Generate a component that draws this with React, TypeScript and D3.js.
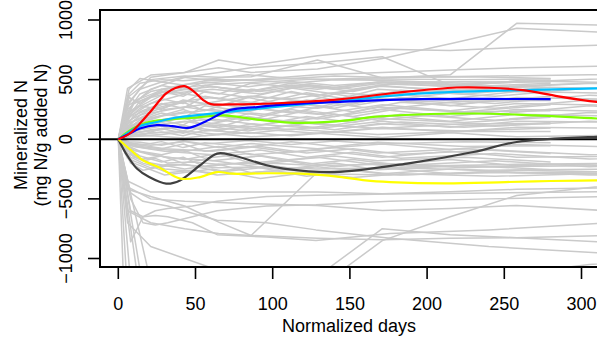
import React, { useEffect, useRef } from 'react';
import * as d3 from 'd3';

// ---- tick labels ----
const xTicks = [0, 50, 100, 150, 200, 250, 300];
const yTicks = [-1000, -500, 0, 500, 1000];
const yTickLabels = ['\u22121000', '\u2212500', '0', '500', '1000'];

// ---- gray individual series (group A: ends at day 280) ----
const daysA = [0, 7, 14, 28, 42, 56, 84, 112, 140, 168, 224, 280];
const grayA = [
  [0, 380, 470, 500, 490, 505, 495, 510, 500, 505, 500, 505],
  [0, 300, 420, 480, 455, 490, 500, 470, 498, 495, 470, 492],
  [0, 250, 380, 450, 420, 480, 440, 485, 450, 478, 482, 480],
  [0, 200, 320, 400, 360, 450, 400, 455, 420, 465, 440, 470],
  [0, 180, 260, 340, 300, 400, 350, 430, 380, 445, 410, 455],
  [0, 150, 230, 300, 260, 360, 300, 400, 330, 420, 380, 435],
  [0, 120, 200, 260, 310, 240, 350, 280, 380, 320, 400, 410],
  [0, 100, 160, 220, 180, 280, 230, 320, 260, 340, 300, 360],
  [0, 90, 140, 200, 250, 190, 270, 220, 300, 250, 320, 325],
  [0, 80, 120, 160, 120, 210, 160, 250, 190, 270, 230, 290],
  [0, 60, 100, 140, 180, 120, 190, 140, 210, 160, 230, 240],
  [0, 50, 80, 110, 70, 140, 100, 160, 120, 175, 140, 185],
  [0, 40, 60, 80, 120, 70, 110, 80, 120, 90, 130, 130],
  [0, 30, 45, 60, 30, 75, 50, 85, 60, 90, 70, 95],
  [0, 20, 30, 40, 60, 30, 55, 30, 60, 40, 65, 65],
  [0, 350, 300, 420, 380, 450, 400, 470, 430, 480, 460, 490],
  [0, 200, 280, 250, 330, 300, 360, 340, 390, 370, 410, 400],
  [0, 420, 510, 480, 520, 500, 540, 510, 530, 520, 525, 510],
  [0, -40, -60, -80, -40, -100, -60, -110, -70, -115, -80, -120],
  [0, -60, -100, -130, -90, -160, -120, -175, -140, -180, -150, -190],
  [0, -30, -50, -20, -70, -30, -65, -20, -60, -25, -60, -55],
  [0, -80, -140, -190, -150, -230, -190, -245, -200, -255, -220, -255],
  [0, -20, -25, -50, -15, -40, -10, -45, -15, -40, -20, -30],
  [0, -100, -170, -140, -200, -170, -220, -180, -230, -200, -240, -210],
  [0, 60, 30, 90, 50, 110, 70, 120, 80, 130, 100, 140],
];

// ---- group B: extends past the right edge ----
const daysB = [0, 6, 21, 43, 65, 86, 129, 171, 215, 258, 344];
const grayB = [
  [0, 426, 538, 560, 664, 620, 700, 754, 745, 770, 800],
  [0, 300, 520, 560, 600, 560, 590, 678, 800, 930, 880],
  [0, 350, 500, 530, 520, 524, 664, 513, 540, 972, 950],
  [0, 250, 420, 520, 560, 600, 640, 692, 454, 480, 520],
  [0, 280, 400, 460, 480, 500, 540, 560, 580, 600, 620],
  [0, 220, 350, 420, 380, 470, 420, 480, 440, 490, 470],
  [0, 180, 300, 380, 340, 420, 370, 450, 400, 440, 420],
  [0, 150, 250, 320, 280, 360, 310, 390, 340, 400, 380],
  [0, 130, 220, 270, 230, 300, 260, 340, 280, 350, 330],
  [0, 100, 180, 230, 190, 260, 210, 290, 240, 300, 280],
  [0, 80, 140, 190, 150, 220, 170, 250, 190, 250, 230],
  [0, 60, 110, 150, 100, 180, 130, 200, 150, 210, 190],
  [0, 40, 80, 110, 70, 130, 90, 150, 100, 150, 140],
  [0, 30, 50, 70, 40, 90, 50, 100, 60, 100, 90],
  [0, 20, 30, 10, 45, 20, 50, 15, 55, 20, 40],
  [0, -50, -80, -100, -60, -130, -90, -150, -100, -150, -140],
  [0, -80, -130, -170, -120, -200, -150, -220, -170, -220, -200],
  [0, -120, -200, -250, -210, -280, -230, -290, -250, -280, -270],
  [0, -30, -50, -20, -70, -35, -80, -40, -85, -45, -70],
  [0, -420, -480, -560, -695, -807, -275, -240, -220, -210, -200],
  [0, -600, -700, -750, -790, -807, -830, -843, -830, -826, -800],
  [0, -350, -443, -443, -445, -443, -443, -456, -440, -420, -400],
  [0, -160, -240, -210, -270, -230, -280, -240, -290, -260, -280],
  [0, -400, -500, -520, -530, -540, -555, -597, -580, -555, -620],
  [0, -1300, -1400, -1400, -1400, -1350, -1250, -850, -650, -471, -350],
  [0, -700, -900, -1000, -1100, -1200, -1150, -750, -800, -826, -880],
];

// ---- group C ----
const daysC = [0, 10, 30, 61, 92, 122, 152, 183, 244, 305, 365];
const grayC = [
  [0, 200, 300, 350, 300, 390, 330, 410, 360, 430, 400],
  [0, 150, 250, 300, 250, 330, 280, 350, 300, 370, 340],
  [0, 120, 200, 250, 200, 290, 230, 310, 260, 330, 300],
  [0, 100, 170, 210, 160, 240, 190, 260, 210, 280, 250],
  [0, 320, 420, 460, 480, 500, 510, 520, 530, 540, 550],
  [0, 300, 400, 440, 400, 460, 420, 480, 440, 470, 460],
  [0, 250, 380, 420, 380, 450, 400, 480, 430, 470, 450],
  [0, 70, 130, 170, 120, 190, 140, 210, 160, 225, 200],
  [0, 50, 90, 120, 80, 135, 100, 145, 110, 150, 130],
  [0, -40, -80, -100, -60, -115, -80, -125, -90, -130, -110],
  [0, -90, -150, -180, -140, -210, -170, -220, -180, -230, -210],
  [0, -150, -250, -280, -240, -310, -260, -300, -270, -300, -290],
  [0, -200, -300, -250, -330, -280, -320, -290, -310, -290, -300],
  [0, -60, -100, -130, -90, -150, -110, -160, -120, -165, -140],
  [0, -1500, -1400, -1300, -1300, -1250, -1250, -1200, -1150, -1050, -1000],
];

// ---- group D: lower sparse series ----
const daysD = [0, 8, 16, 24, 32, 48, 64, 96, 128, 176, 240, 320];
const grayD = [
  [0, -860, -650, -600, -580, -560, -520, -480, -470, -460, -450, -440],
  [0, -500, -700, -720, -700, -650, -600, -560, -550, -520, -500, -480],
  [0, -200, -260, -240, -280, -260, -300, -270, -290, -300, -280, -290],
  [0, -150, -200, -230, -210, -220, -240, -230, -250, -240, -260, -250],
  [0, -100, -180, -160, -200, -190, -210, -200, -220, -210, -230, -220],
  [0, -600, -650, -640, -650, -700, -800, -820, -850, -790, -760, -700],
  [0, -450, -520, -540, -560, -620, -680, -700, -760, -830, -900, -960],
];

// ---- steep early drops ----
const dropDays = [4, 14, 16, 21];
const dropValues = [-1400, -1300, -1250, -1200];

// ---- smoothed group curves ----
const redDays = [0, 7, 14, 22, 31, 37, 43, 49, 55, 60, 72, 100, 143, 180, 219, 240, 262, 285, 310, 330];
const redVals = [0, 45, 132, 250, 384, 430, 445, 400, 328, 295, 292, 300, 335, 390, 434, 432, 412, 360, 313, 290];
const blueDays = [0, 7, 14, 25, 35, 45, 55, 72, 90, 111, 150, 197, 240, 280];
const blueVals = [0, 45, 90, 118, 110, 95, 140, 244, 270, 294, 318, 336, 338, 336];
const cyanDays = [0, 7, 14, 25, 35, 50, 68, 100, 143, 197, 262, 310, 340];
const cyanVals = [0, 60, 110, 145, 176, 200, 226, 270, 322, 384, 412, 426, 430];
const greenDays = [0, 7, 14, 22, 35, 50, 68, 90, 118, 150, 165, 230, 270, 310, 340];
const greenVals = [0, 70, 120, 150, 168, 182, 200, 165, 137, 160, 187, 216, 200, 174, 165];
const yellowDays = [0, 8, 16, 27, 40, 53, 64, 74, 96, 118, 143, 160, 176, 212, 251, 280, 310, 340];
const yellowVals = [0, -90, -176, -240, -330, -317, -275, -289, -285, -289, -315, -345, -359, -370, -359, -350, -345, -345];
const darkDays = [0, 5, 12, 20, 31, 40, 53, 64, 74, 96, 107, 140, 187, 230, 258, 310, 340];
const darkVals = [0, -120, -246, -317, -372, -345, -218, -120, -134, -218, -246, -275, -204, -107, -23, 20, 25];

const W = 597;
const H = 337;
const FONT = "'Liberation Sans', Arial, Helvetica, sans-serif";

export default function App() {
  const ref = useRef<SVGSVGElement>(null);

  useEffect(() => {
    const svg = d3.select(ref.current);
    svg.selectAll('*').remove();

    const left = 100, top = 10, bottom = 267, right = 640;
    const x = d3.scaleLinear().domain([0, 300]).range([118.3, 581.5]);
    const y = d3.scaleLinear().domain([-1000, 1000]).range([258.5, 20]);

    svg.append('defs').append('clipPath').attr('id', 'plotclip')
      .append('rect').attr('x', left).attr('y', top).attr('width', right - left).attr('height', bottom - top);

    const g = svg.append('g').attr('clip-path', 'url(#plotclip)');

    const line = d3.line<[number, number]>().x(d => x(d[0])).y(d => y(d[1]));
    const smooth = d3.line<[number, number]>().x(d => x(d[0])).y(d => y(d[1])).curve(d3.curveCatmullRom.alpha(0.5));

    const addGroup = (days: number[], groups: number[][]) => {
      groups.forEach(vals => {
        const pts = vals.map((v, i) => [days[i], v] as [number, number]);
        g.append('path').attr('d', line(pts)).attr('fill', 'none')
          .attr('stroke', '#CACACA').attr('stroke-width', 1.5).attr('stroke-linejoin', 'round');
      });
    };
    addGroup(daysA, grayA);
    addGroup(daysB, grayB);
    addGroup(daysC, grayC);
    addGroup(daysD, grayD);
    dropDays.forEach((d, i) => {
      g.append('path').attr('d', line([[0, 0], [d, dropValues[i]]])).attr('fill', 'none')
        .attr('stroke', '#CACACA').attr('stroke-width', 1.5);
    });

    // zero line
    g.append('line').attr('x1', left).attr('x2', right).attr('y1', y(0)).attr('y2', y(0))
      .attr('stroke', '#000').attr('stroke-width', 2);

    const curves: [number[], number[], string][] = [
      [darkDays, darkVals, '#404040'],
      [yellowDays, yellowVals, '#FFFF00'],
      [greenDays, greenVals, '#7FFF00'],
      [cyanDays, cyanVals, '#00BFFF'],
      [blueDays, blueVals, '#0000FF'],
      [redDays, redVals, '#FF0000'],
    ];
    curves.forEach(([ds, vs, col]) => {
      const pts = vs.map((v, i) => [ds[i], v] as [number, number]);
      g.append('path').attr('d', smooth(pts)).attr('fill', 'none')
        .attr('stroke', col).attr('stroke-width', 2.2).attr('stroke-linejoin', 'round');
    });

    // box
    svg.append('rect').attr('x', left).attr('y', top).attr('width', right - left).attr('height', bottom - top)
      .attr('fill', 'none').attr('stroke', '#000').attr('stroke-width', 2);

    // x axis ticks
    xTicks.forEach(t => {
      svg.append('line').attr('x1', x(t)).attr('x2', x(t)).attr('y1', bottom).attr('y2', bottom + 12)
        .attr('stroke', '#000').attr('stroke-width', 1.6);
      svg.append('text').attr('x', x(t)).attr('y', 309.5).attr('text-anchor', 'middle')
        .attr('font-family', FONT).attr('font-size', 18).text(String(t));
    });
    // y axis ticks
    yTicks.forEach((t, i) => {
      svg.append('line').attr('x1', left - 12).attr('x2', left).attr('y1', y(t)).attr('y2', y(t))
        .attr('stroke', '#000').attr('stroke-width', 1.6);
      svg.append('text').attr('transform', `translate(71.5,${y(t)}) rotate(-90)`).attr('text-anchor', 'middle')
        .attr('font-family', FONT).attr('font-size', 18).text(yTickLabels[i]);
    });

    svg.append('text').attr('x', 349).attr('y', 331.5).attr('text-anchor', 'middle')
      .attr('font-family', FONT).attr('font-size', 18).text('Normalized days');
    svg.append('text').attr('transform', 'translate(27,135) rotate(-90)').attr('text-anchor', 'middle')
      .attr('font-family', FONT).attr('font-size', 18).text('Mineralized N');
    svg.append('text').attr('transform', 'translate(46.5,135) rotate(-90)').attr('text-anchor', 'middle')
      .attr('font-family', FONT).attr('font-size', 18).text('(mg N/g added N)');
  }, []);

  return (
    <svg ref={ref} width={W} height={H}
      style={{ position: 'absolute', left: 0, top: 0, background: '#fff' }} />
  );
}
